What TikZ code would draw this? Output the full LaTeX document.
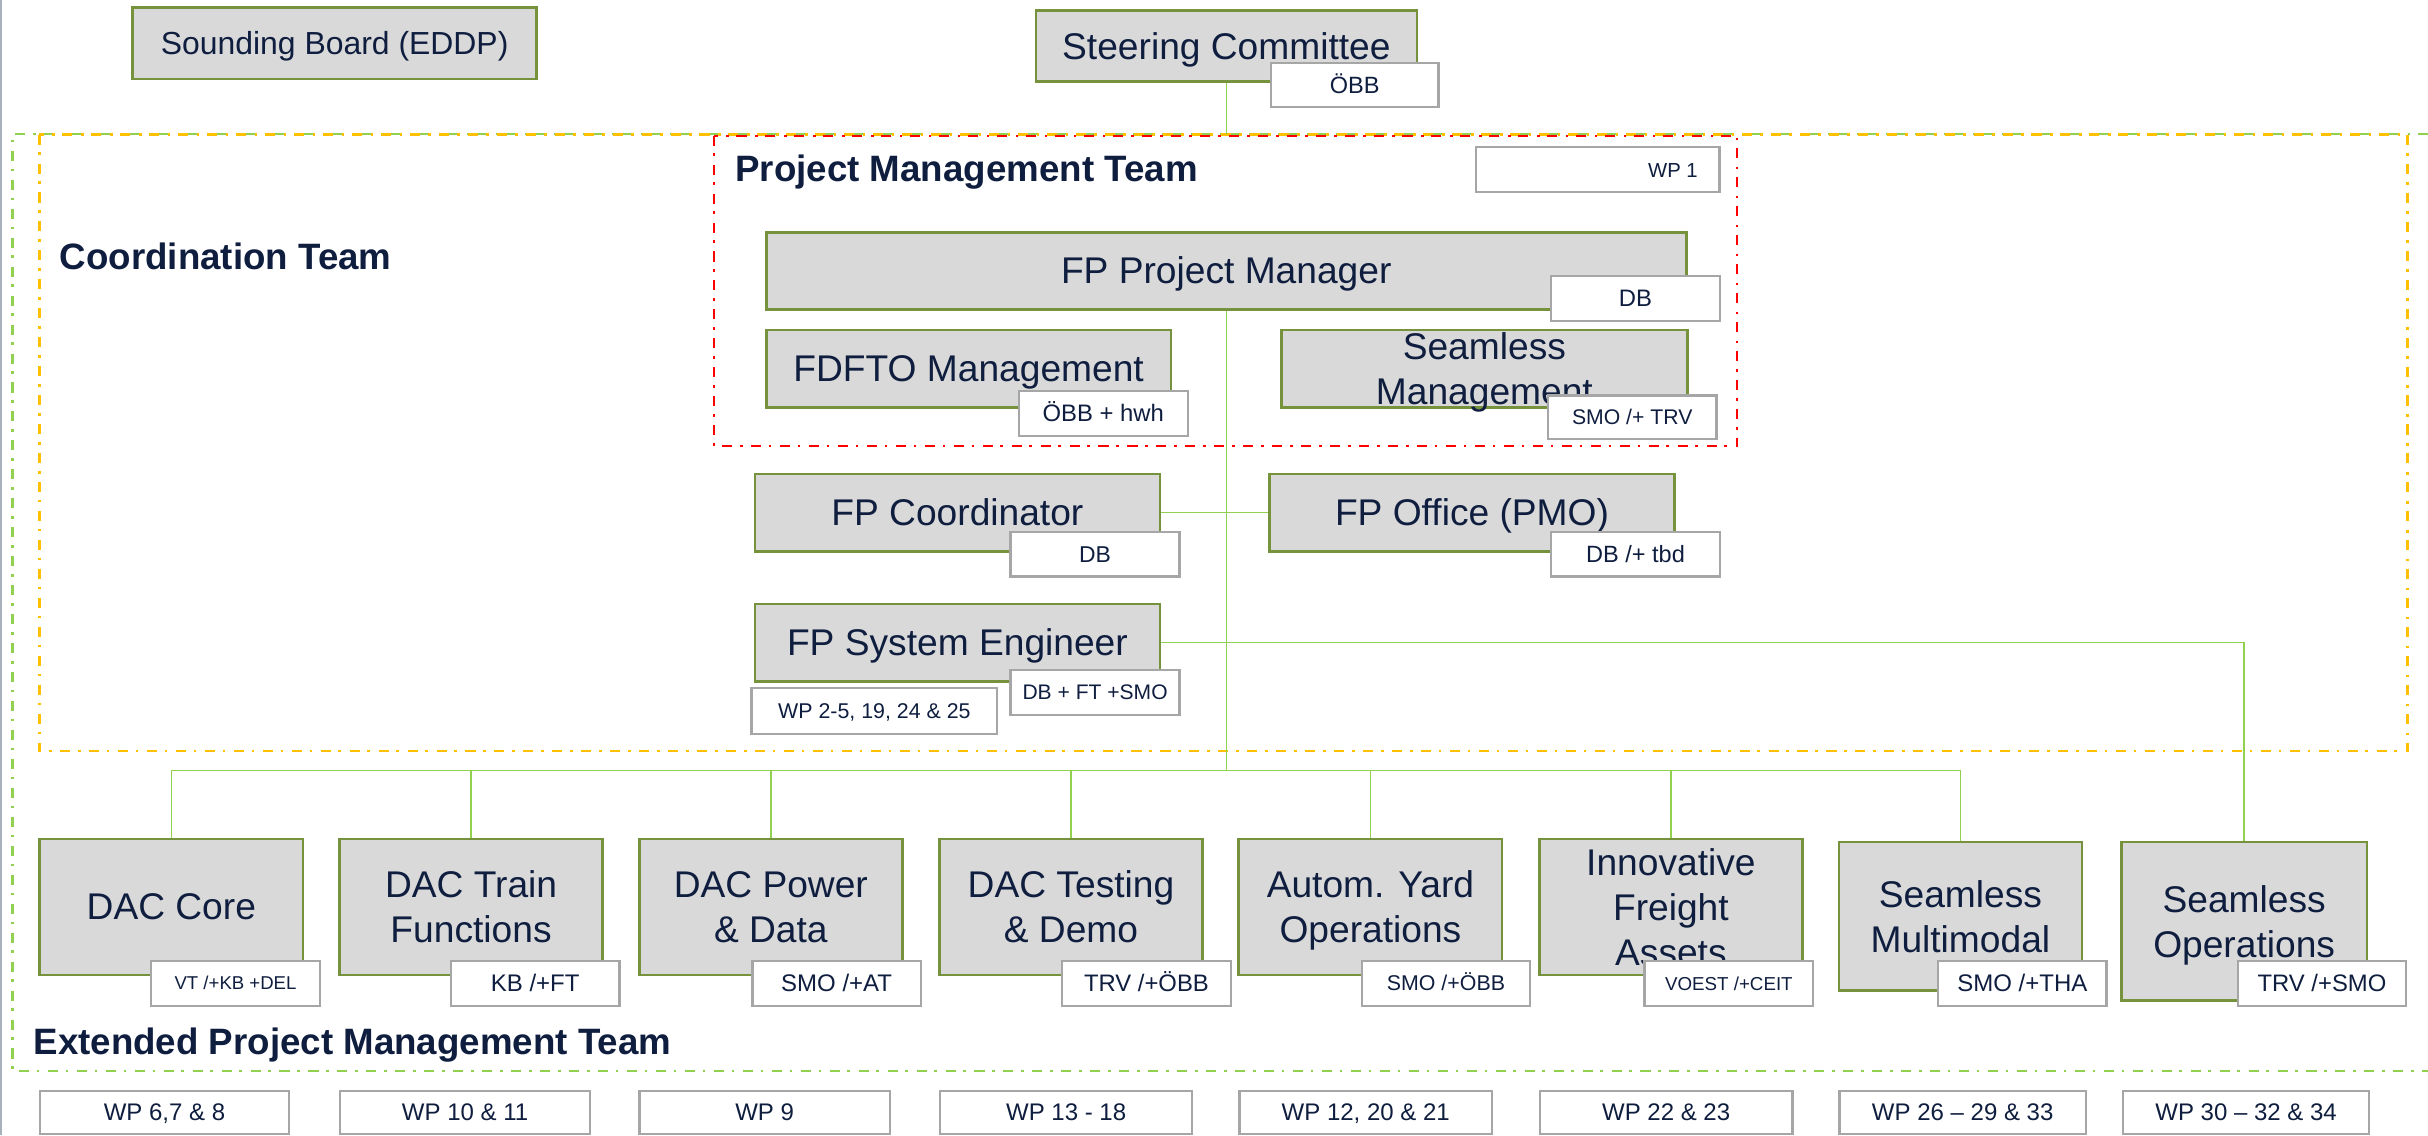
\documentclass[tikz,border=0pt]{standalone}
\usepackage{fontspec}
\setmainfont{Liberation Sans}
\definecolor{navy}{HTML}{0F1E3F}
\definecolor{boxgray}{HTML}{D9D9D9}
\definecolor{boxgreen}{HTML}{76923C}
\definecolor{labgray}{HTML}{A6A6A6}
\definecolor{conngreen}{HTML}{92D050}
\definecolor{dashgreen}{HTML}{92D050}
\definecolor{dashyellow}{HTML}{FFC000}
\definecolor{dashred}{HTML}{FF0000}
\definecolor{edgeline}{HTML}{A8B0BC}
\newcommand\pstrt{\rule[-0.212em]{0pt}{1.117em}}
\newcommand\fsMain{\fontsize{24}{29}\selectfont}
\newcommand\fsSB{\fontsize{20.6}{25}\selectfont}
\newcommand\fsTitle{\bfseries\fontsize{23.7}{28}\selectfont}
\pgfdeclarelayer{frames}
\pgfdeclarelayer{links}
\pgfsetlayers{frames,links,main}
\tikzset{
  mbox/.style={draw=boxgreen, fill=boxgray, line width=1.7pt, inner sep=0pt, rectangle},
  lab/.style={draw=labgray, fill=white, line width=1.5pt, inner sep=0pt, rectangle,
    text=navy, font={\fontsize{#1}{18}\selectfont}, execute at begin node=\pstrt},
  txt/.style={text=navy, align=center, inner sep=0pt, font=\fsMain,
    execute at begin node=\pstrt, execute at end node=\pstrt},
  txtm/.style={txt, yshift=-2.5pt},
  ttl/.style={text=navy, inner sep=0pt, font=\fsTitle, anchor=base west},
  conn/.style={draw=conngreen, line width=0.9pt},
  ddash/.style={dash pattern=on 6.5pt off 5pt on 1.7pt off 5.5pt},
}
\begin{document}
\begin{tikzpicture}[x=1pt,y=-1pt]
\useasboundingbox (0,0) rectangle (1568,733);
\begin{pgfonlayer}{frames}
\fill[white] (0,0) rectangle (1568,733);
\draw[edgeline, line width=1pt] (0.5,0) -- (0.5,733);
\draw[dashgreen, line width=1.5pt, ddash] (1568,86.6) -- (8,86.6) -- (8,691.6) -- (1568,691.6);
\draw[dashyellow, line width=1.7pt, ddash] (25.5,86.9) rectangle (1554.8,485);
\draw[dashred, line width=1.4pt, ddash] (461,87.6) rectangle (1122,288);
\end{pgfonlayer}

% titles
\node[ttl] (tCT) at (38.5,173.9) {Coordination Team};
\node[ttl] (tPMT) at (474.7,117.3) {Project Management Team};
\node[ttl] (tEPMT) at (21.5,681) {Extended Project Management Team};

% main boxes (top)
\node[mbox, minimum width=260.9pt, minimum height=46.3pt] (SB) at (216.15,27.85) {};
\node[mbox, minimum width=246pt, minimum height=45.9pt] (SC) at (792,29.85) {};
\node[mbox, minimum width=594.2pt, minimum height=50pt] (PM) at (791.9,175) {};
\node[mbox, minimum width=261.5pt, minimum height=50pt] (FD) at (625.55,238) {};
\node[mbox, minimum width=262pt, minimum height=50pt] (SM) at (958.6,238) {};
\node[mbox, minimum width=261.4pt, minimum height=50pt] (CO) at (618.3,331) {};
\node[mbox, minimum width=261.6pt, minimum height=50pt] (PMO) at (950.6,331) {};
\node[mbox, minimum width=261.4pt, minimum height=50pt] (SE) at (618.3,415) {};

% main boxes (bottom)
\node[mbox, minimum width=170pt, minimum height=87.9pt] (B1) at (110.65,585.75) {};
\node[mbox, minimum width=170pt, minimum height=87.9pt] (B2) at (304.2,585.75) {};
\node[mbox, minimum width=170pt, minimum height=87.9pt] (B3) at (497.8,585.75) {};
\node[mbox, minimum width=170pt, minimum height=87.9pt] (B4) at (691.65,585.75) {};
\node[mbox, minimum width=170pt, minimum height=87.9pt] (B5) at (885,585.75) {};
\node[mbox, minimum width=170pt, minimum height=87.9pt] (B6) at (1079.05,585.75) {};
\node[mbox, minimum width=157pt, minimum height=96pt] (B7) at (1266,591.8) {};
\node[mbox, minimum width=158.5pt, minimum height=102.2pt] (B8) at (1449.25,594.9) {};

% box texts
\node[txt, font=\fsSB] (SBt) at (SB.center) {Sounding Board (EDDP)};
\node[txt] (SCt) at (SC.center) {Steering Committee};
\node[txt] (PMt) at (PM.center) {FP Project Manager};
\node[txt] (FDt) at (FD.center) {FDFTO Management};
\node[txtm] (SMt) at (SM.center) {Seamless\\Management};
\node[txt] (COt) at (CO.center) {FP Coordinator};
\node[txt] (PMOt) at (PMO.center) {FP Office (PMO)};
\node[txt] (SEt) at (SE.center) {FP System Engineer};
\node[txt] (B1t) at (B1.center) {DAC Core};
\node[txtm] (B2t) at (B2.center) {DAC Train\\Functions};
\node[txtm] (B3t) at (B3.center) {DAC Power\\\& Data};
\node[txtm] (B4t) at (B4.center) {DAC Testing\\\& Demo};
\node[txtm] (B5t) at (B5.center) {Autom. Yard\\Operations};
\node[txtm] (B6t) at (B6.center) {Innovative\\Freight\\Assets};
\node[txtm] (B7t) at (B7.center) {Seamless\\Multimodal};
\node[txtm] (B8t) at (B8.center) {Seamless\\Operations};

% labels (top)
\node[lab=15.2, minimum width=108.3pt, minimum height=28.4pt] (lSC) at (874.85,55.1) {ÖBB};
\node[lab=13.1, minimum width=157.5pt, minimum height=29pt] (WP1) at (1031.75,109.5) {};
\node[text=navy, inner sep=0pt, font={\fontsize{13.1}{16}\selectfont}, anchor=east] (WP1t) at (1096.6,110) {\pstrt WP 1};
\node[lab=15.4, minimum width=109.2pt, minimum height=28.9pt] (lPM) at (1056.2,192.65) {DB};
\node[lab=15.4, minimum width=109pt, minimum height=29pt] (lFD) at (712.5,267.1) {ÖBB + hwh};
\node[lab=13.7, minimum width=109pt, minimum height=28pt] (lSM) at (1054.1,269.5) {SMO /+ TRV};
\node[lab=14.8, minimum width=109.2pt, minimum height=28.8pt] (lCO) at (707.2,358) {DB};
\node[lab=15.2, minimum width=109.2pt, minimum height=28.8pt] (lPMO) at (1056.2,358) {DB /+ tbd};
\node[lab=13.6, minimum width=109.2pt, minimum height=29.1pt] (lSE) at (707.2,447.25) {DB + FT +SMO};
\node[lab=13.8, minimum width=158.6pt, minimum height=29.6pt] (wSE) at (564.7,459.2) {WP 2-5, 19, 24 \& 25};

% labels (bottom)
\node[lab=12, minimum width=108.8pt, minimum height=29.1pt] (l1) at (152.1,635.15) {VT /+KB +DEL};
\node[lab=15.5, minimum width=108.8pt, minimum height=29.1pt] (l2) at (345.65,635.15) {KB /+FT};
\node[lab=15.5, minimum width=108.8pt, minimum height=29.1pt] (l3) at (540.3,635.15) {SMO /+AT};
\node[lab=15.4, minimum width=108.8pt, minimum height=29.1pt] (l4) at (740.35,635.15) {TRV /+ÖBB};
\node[lab=13.8, minimum width=108.8pt, minimum height=29.1pt] (l5) at (933.8,635.15) {SMO /+ÖBB};
\node[lab=12.1, minimum width=108.8pt, minimum height=29.1pt] (l6) at (1116.5,635.15) {VOEST /+CEIT};
\node[lab=15.5, minimum width=108.8pt, minimum height=29.1pt] (l7) at (1306.05,635.15) {SMO /+THA};
\node[lab=15.4, minimum width=108.8pt, minimum height=29.1pt] (l8) at (1499.5,635.15) {TRV /+SMO};

% work package boxes (bottom row)
\node[lab=15.5, minimum width=161.1pt, minimum height=28pt] (w1) at (106.25,718.5) {WP 6,7 \& 8};
\node[lab=15.5, minimum width=161.3pt, minimum height=28pt] (w2) at (300.35,718.5) {WP 10 \& 11};
\node[lab=15.5, minimum width=161.8pt, minimum height=28pt] (w3) at (493.8,718.5) {WP 9};
\node[lab=15.5, minimum width=163pt, minimum height=28pt] (w4) at (688.5,718.5) {WP 13 - 18};
\node[lab=15.5, minimum width=163pt, minimum height=28pt] (w5) at (882,718.5) {WP 12, 20 \& 21};
\node[lab=15.5, minimum width=163pt, minimum height=28pt] (w6) at (1076,718.5) {WP 22 \& 23};
\node[lab=15.5, minimum width=159pt, minimum height=28pt] (w7) at (1267.5,718.5) {WP 26 – 29 \& 33};
\node[lab=15.5, minimum width=159pt, minimum height=28pt] (w8) at (1450.5,718.5) {WP 30 – 32 \& 34};

% connectors
\coordinate (scdrop) at (792,86.6);
\coordinate (busM) at (791.9,497.5);
\coordinate (busL) at (110.65,497.5);
\coordinate (busR) at (1266,497.5);
\begin{pgfonlayer}{links}
\draw[conn] (SC.south) -- (scdrop);
\draw[conn] (PM.south) -- (busM);
\draw[conn] (busL) -- (busR);
\draw[conn] (CO.east) -- (PMO.west);
\draw[conn] (SE.east) -| (B8.north);
\foreach \b in {B1,B2,B3,B4,B5,B6,B7}
  \draw[conn] (\b.north) -- (\b.north |- busL);
\end{pgfonlayer}
\end{tikzpicture}
\end{document}
